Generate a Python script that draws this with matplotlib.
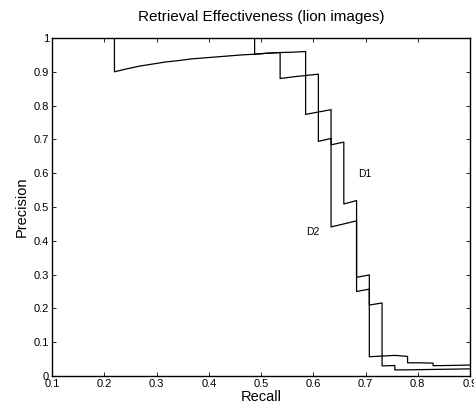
import matplotlib
matplotlib.use("Agg")
import matplotlib.pyplot as plt

plt.rcParams['font.family'] = ['Liberation Sans', 'DejaVu Sans']

# D1 curve vertices (recall, precision)
d1_recall = [0.0244, 0.4878, 0.4878, 0.5122, 0.5366, 0.5610, 0.5854, 0.5854,
             0.6098, 0.6341, 0.6341, 0.6585, 0.6585, 0.6829, 0.6829, 0.7073,
             0.7073, 0.7317, 0.7317, 0.7561, 0.7561, 0.7805, 0.8049, 0.8293,
             0.8537, 0.8780, 0.9024, 0.9268]
d1_precision = [1.0, 1.0, 0.952, 0.955, 0.957, 0.958, 0.960, 0.774,
                0.781, 0.788, 0.684, 0.692, 0.509, 0.519, 0.292, 0.299,
                0.210, 0.216, 0.030, 0.031, 0.018, 0.0183, 0.0188, 0.0194,
                0.0200, 0.0206, 0.0212, 0.0217]

# D2 curve vertices (recall, precision)
d2_recall = [0.0244, 0.2195, 0.2195, 0.2439, 0.2683, 0.2927, 0.3171, 0.3415,
             0.3659, 0.3902, 0.4146, 0.4390, 0.4634, 0.4878, 0.5122, 0.5366,
             0.5366, 0.5610, 0.5854, 0.6098, 0.6098, 0.6341, 0.6341, 0.6585,
             0.6829, 0.6829, 0.7073, 0.7073, 0.7317, 0.7561, 0.7805, 0.7805,
             0.8049, 0.8293, 0.8293, 0.8537, 0.8780, 0.9024, 0.9268]
d2_precision = [1.0, 1.0, 0.900, 0.909, 0.917, 0.923, 0.929, 0.933,
                0.938, 0.941, 0.944, 0.947, 0.950, 0.952, 0.955, 0.957,
                0.880, 0.885, 0.889, 0.893, 0.694, 0.703, 0.441, 0.450,
                0.459, 0.250, 0.257, 0.057, 0.059, 0.061, 0.058, 0.039,
                0.039, 0.038, 0.0305, 0.031, 0.0317, 0.0325, 0.033]

x_ticks = [0.1, 0.2, 0.3, 0.4, 0.5, 0.6, 0.7, 0.8, 0.9]
x_labels = ['0.1', '0.2', '0.3', '0.4', '0.5', '0.6', '0.7', '0.8', '0.9']
y_ticks = [0, 0.1, 0.2, 0.3, 0.4, 0.5, 0.6, 0.7, 0.8, 0.9, 1]
y_labels = ['0', '0.1', '0.2', '0.3', '0.4', '0.5', '0.6', '0.7', '0.8', '0.9', '1']

fig = plt.figure(figsize=(4.74, 4.11), dpi=100)
ax = fig.add_axes([52/474, 1-376/411, (470-52)/474, (376-38)/411])

ax.plot(d1_recall, d1_precision, color='black', linewidth=0.9)
ax.plot(d2_recall, d2_precision, color='black', linewidth=0.9)

ax.text(0.6857, 0.598, 'D1', fontsize=7.5, va='center', ha='left')
ax.text(0.586, 0.427, 'D2', fontsize=7.5, va='center', ha='left')

ax.set_xlim(0.1, 0.9)
ax.set_ylim(0, 1)
ax.set_xticks(x_ticks)
ax.set_xticklabels(x_labels)
ax.set_yticks(y_ticks)
ax.set_yticklabels(y_labels)
ax.tick_params(direction='in', top=True, right=True, length=3, width=0.6,
               labelsize=8, pad=2)
for s in ax.spines.values():
    s.set_linewidth(1.0)

ax.set_xlabel('Recall', fontsize=10.5, labelpad=1)
ax.set_ylabel('Precision', fontsize=10.5, labelpad=4)
ax.set_title('Retrieval Effectiveness (lion images)', fontsize=11, pad=12)

fig.savefig('out.png', dpi=100)
